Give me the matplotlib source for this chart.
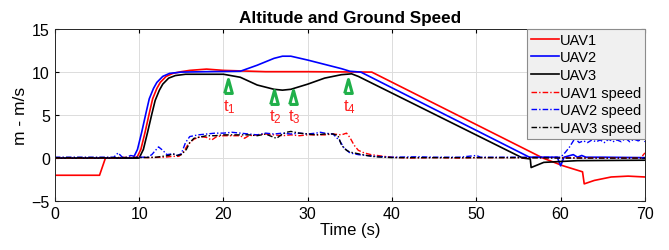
import numpy as np
import matplotlib.pyplot as plt

plt.rcParams['font.family'] = ['Liberation Sans', 'DejaVu Sans']

# altitude (solid)
t_uav1 = [0, 5.3, 6.0, 9.7, 10.2, 10.7, 11.2, 11.6, 12.1, 12.5, 13.2, 14.0, 15, 16, 18, 20, 25, 30, 37.6, 57.9, 60.3, 62.6, 62.8, 64, 66, 68, 70]
h_uav1 = [-2, -2, 0, 0, 1.0, 3, 5.2, 6.9, 8.1, 8.8, 9.5, 9.85, 10.05, 10.2, 10.35, 10.2, 10.05, 10.05, 10.0, 0, -0.9, -1.6, -3.0, -2.6, -2.2, -2.1, -2.2]

t_uav2 = [0, 9.3, 9.8, 10.3, 10.8, 11.2, 11.7, 12.1, 12.8, 13.6, 15, 18, 22, 24, 26, 27, 28, 30, 32, 34, 35, 36.3, 56.3, 59.6, 60.0, 60.4, 61.5, 62, 62.5, 63, 65, 70]
h_uav2 = [0, 0, 1.0, 3, 5.2, 6.9, 8.1, 8.8, 9.5, 9.85, 10.0, 10.05, 10.1, 10.8, 11.6, 11.85, 11.85, 11.4, 10.9, 10.4, 10.1, 10.0, 0.1, 0.1, -0.9, 0.1, 0.4, 0.1, 0.3, 0.1, 0.1, 0.05]

t_uav3 = [0, 10.0, 10.5, 11.0, 11.5, 11.9, 12.4, 12.8, 13.5, 14.3, 15.5, 20, 22, 24, 26, 27, 28, 30, 32, 34, 35.2, 36, 55.5, 56.4, 56.5, 58, 62, 70]
h_uav3 = [0, 0, 1.0, 3, 5.1, 6.7, 7.9, 8.6, 9.3, 9.6, 9.75, 9.75, 9.4, 8.5, 8.0, 7.9, 8.0, 8.6, 9.3, 9.7, 9.8, 9.5, 0, -0.1, -1.1, -0.5, -0.3, -0.25]

# ground speed (dash-dot)
ts_uav1 = [0, 7, 9, 10, 11, 13, 14, 14.7, 15.2, 15.8, 16.5, 17.3, 18, 18.6, 19.2, 20, 21, 22, 22.5, 23, 24, 25, 26, 27, 28, 29, 30, 31, 32, 33, 34, 34.6, 35, 35.5, 36, 36.7, 37.5, 39, 40, 42, 45, 48, 50, 55, 60, 65, 69.5, 70]
s_uav1 = [0.05, 0.05, 0.1, 0.1, 0.05, 0.1, 0.2, 0.2, 0.6, 1.6, 2.2, 2.5, 2.4, 2.1, 2.5, 2.6, 2.6, 2.6, 2.3, 2.6, 2.7, 2.8, 2.7, 2.6, 2.7, 2.6, 2.7, 2.7, 2.7, 2.8, 2.7, 2.9, 2.4, 1.5, 0.9, 0.6, 0.4, 0.2, 0.1, 0.0, 0.05, 0.0, 0.05, 0.05, 0.05, 0.0, 0.0, 0.6]

ts_uav2 = [0, 5, 7, 7.5, 8, 8.5, 9, 9.5, 10, 11, 11.5, 12.3, 12.8, 13.3, 14, 14.5, 15, 15.5, 16, 17, 18, 19, 20, 21, 22, 23, 24, 25, 26, 27, 28, 29, 30, 31, 31.5, 32, 33, 33.8, 34.3, 35, 36, 37, 38, 40, 43, 45, 48, 50, 50.5, 55, 58, 60, 60.5, 61, 61.7, 62.2, 62.7, 63.2, 63.7, 64.2, 64.7, 65.2, 65.7, 66.2, 66.7, 67.2, 67.7, 68.2, 68.7, 69.2, 69.7, 70]
s_uav2 = [0.1, 0.1, 0.1, 0.6, 0.1, 0.1, 0.3, 0.2, 0.1, 0.1, 0.4, 1.3, 0.9, 0.4, 0.5, 0.3, 0.5, 1.8, 2.5, 2.7, 2.8, 2.9, 2.9, 3.0, 2.9, 2.8, 2.7, 2.9, 2.8, 2.9, 2.8, 2.9, 2.8, 2.9, 3.0, 2.9, 2.8, 2.0, 1.2, 0.6, 0.4, 0.3, 0.2, 0.1, 0.15, 0.1, 0.1, 0.3, 0.1, 0.1, 0.1, 0.1, 0.6, 1.2, 2.3, 1.8, 2.0, 1.8, 2.1, 1.9, 2.1, 1.8, 2.2, 1.9, 2.1, 1.9, 2.3, 1.9, 2.2, 2.0, 2.2, 1.9]

ts_uav3 = [0, 10, 12, 13.5, 14, 14.5, 15, 15.6, 16, 16.5, 17, 18, 19, 20, 21, 22, 23, 24, 25, 26, 26.3, 27, 27.5, 28, 29, 30, 31, 32, 33, 33.6, 34, 34.6, 35, 36, 37, 38, 40, 45, 50, 55, 60, 65, 70]
s_uav3 = [0.05, 0.05, 0.1, 0.3, 0.5, 0.3, 0.4, 1.0, 1.8, 2.3, 2.4, 2.6, 2.6, 2.7, 2.7, 2.7, 2.7, 2.6, 2.8, 2.4, 2.3, 2.8, 3.0, 3.1, 2.9, 2.8, 2.7, 2.8, 2.8, 2.6, 1.5, 0.9, 0.7, 0.5, 0.3, 0.15, 0.05, 0.05, 0.05, 0.05, 0.0, 0.0, 0.0]

# event markers
ev_t = [20.5, 26.0, 28.2, 34.8]
ev_y = [8.4, 7.15, 7.15, 8.4]
ev_lbl = ['$\\mathregular{t_1}$', '$\\mathregular{t_2}$', '$\\mathregular{t_3}$', '$\\mathregular{t_4}$']

fig = plt.figure(figsize=(6.69, 2.51), dpi=100)
ax = fig.add_axes([0.082, 0.195, 0.882, 0.685])

dd = (4, 1.5, 1, 1.5)  # matlab-ish dash-dot
ax.plot(t_uav1, h_uav1, color='#ff0000', lw=1.2, label='UAV1')
ax.plot(t_uav2, h_uav2, color='#0000ff', lw=1.2, label='UAV2')
ax.plot(t_uav3, h_uav3, color='black', lw=1.2, label='UAV3')
ax.plot(ts_uav1, s_uav1, color='#ff0000', lw=1.0, dashes=dd, label='UAV1 speed')
ax.plot(ts_uav2, s_uav2, color='#0000ff', lw=1.0, dashes=dd, label='UAV2 speed')
ax.plot(ts_uav3, s_uav3, color='black', lw=1.0, dashes=dd, label='UAV3 speed')

green = '#20b04a'
tri = [(-0.55, -1), (0.55, -1), (0, 1), (-0.55, -1)]
ax.plot(ev_t, ev_y, ls='none', marker=tri, ms=10, mfc='white', mec=green, mew=2.2)
for x, y, s in zip(ev_t, ev_y, ev_lbl):
    ax.text(x + 0.2, y - 1.3, s, color='#ff2020', fontsize=12, ha='center', va='top')

ax.set_xlim(0, 70)
ax.set_ylim(-5, 15)
ax.set_xticks(range(0, 71, 10))
ax.set_yticks(range(-5, 16, 5))
ax.tick_params(direction='in', labelsize=11.5, length=3, top=True, right=True)
ax.grid(True, color='#dcdcdc', lw=0.7)
ax.set_axisbelow(True)
for s in ax.spines.values():
    s.set_color('#262626')
    s.set_linewidth(0.7)

ax.set_title('Altitude and Ground Speed', fontsize=12.3, fontweight='bold', pad=5)
ax.set_xlabel('Time (s)', fontsize=12, labelpad=1)
ax.set_ylabel('m - m/s', fontsize=12.5, labelpad=3)

leg = ax.legend(loc='upper right', fontsize=10.5, borderaxespad=0, fancybox=False,
                handlelength=1.9, handletextpad=0.1, labelspacing=0.25,
                borderpad=0.25, framealpha=1)
leg.get_frame().set_facecolor('#f0f0f0')
leg.get_frame().set_edgecolor('#8c8c8c')
leg.get_frame().set_linewidth(0.8)

fig.savefig('out.png', dpi=100)
